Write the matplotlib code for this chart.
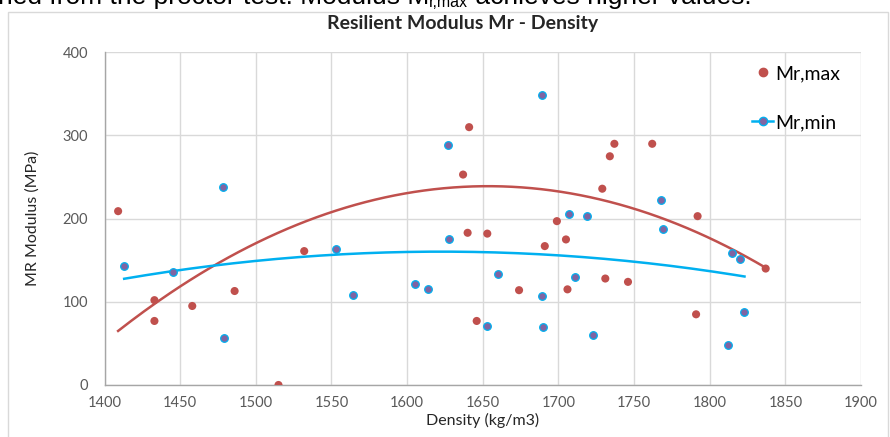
import numpy as np
import matplotlib.pyplot as plt
from matplotlib.lines import Line2D
from matplotlib.patches import Rectangle

# Mr,max measurements: dry density (kg/m3) and resilient modulus (MPa)
density_max = [1409, 1433, 1433, 1458, 1486, 1515, 1532, 1637, 1640, 1641,
               1646, 1653, 1674, 1691, 1699, 1705, 1706, 1729, 1731, 1734,
               1737, 1746, 1762, 1791, 1792, 1837]
mr_max = [209, 102, 77, 95, 113, 0, 161, 253, 183, 310,
          77, 182, 114, 167, 197, 175, 115, 236, 128, 275,
          290, 124, 290, 85, 203, 140]

# Mr,min measurements
density_min = [1413, 1445, 1478, 1479, 1553, 1564, 1605, 1614, 1627, 1628,
               1653, 1660, 1689, 1689, 1690, 1707, 1711, 1719, 1723, 1768,
               1769, 1812, 1815, 1820, 1823]
mr_min = [143, 136, 238, 56, 164, 108, 122, 115, 289, 175,
          71, 134, 349, 107, 70, 205, 130, 203, 60, 223,
          188, 48, 159, 152, 88]

# polynomial (order 2) trend of Mr,max: start, crest and end values
trend_max_density = [1409, 1650, 1837]
trend_max_mr = [65, 239, 141]

x_ticks = [1400, 1450, 1500, 1550, 1600, 1650, 1700, 1750, 1800, 1850, 1900]
y_ticks = [0, 100, 200, 300, 400]

title = "Resilient Modulus Mr - Density"
x_label = "Density (kg/m3)"
y_label = "MR Modulus (MPa)"
label_max = "Mr,max"
label_min = "Mr,min"
caption_parts = ["ned from the proctor test. Modulus M", "r,max",
                 " achieves higher values."]

RED = "#C0504D"
CYAN = "#00B0F0"
PURPLE = "#8064A2"
GRID = "#D9D9D9"
AXIS = "#A6A6A6"
TXT = "#595959"

plt.rcParams['font.family'] = ['Lato', 'DejaVu Sans']

W, H = 890, 437
fig = plt.figure(figsize=(W / 100, H / 100), dpi=100)


def fx(px):
    return px / W


def fy(py):
    return 1 - py / H


# outer chart border
fig.patches.append(Rectangle((fx(8), fy(460)), fx(888) - fx(8), fy(12) - fy(460),
                             transform=fig.transFigure, fill=False,
                             edgecolor=GRID, linewidth=1.0))

# sentence of the surrounding document, cut off at the top edge
renderer = fig.canvas.get_renderer()
cap_font = ['Liberation Sans', 'DejaVu Sans']
x_px = -2.0
for i, part in enumerate(caption_parts):
    sub = (i == 1)
    t = fig.text(fx(x_px), fy(7.0 if sub else 4.0), part,
                 fontsize=11.5 if sub else 19, color="black",
                 ha="left", va="baseline", family=cap_font)
    x_px += t.get_window_extent(renderer).width

ax = fig.add_axes([fx(104.5), fy(385), fx(861) - fx(104.5), fy(52.3) - fy(385)])

# second-order trend lines
trend_specs = ((trend_max_density, trend_max_mr, RED),
               (density_min, mr_min, CYAN))
for xs, ys, col in trend_specs:
    coef = np.polyfit(xs, ys, 2)
    xx = np.linspace(min(xs), max(xs), 200)
    ax.plot(xx, np.polyval(coef, xx), color=col, linewidth=1.8, zorder=2)

ax.scatter(density_max, mr_max, s=34, color=RED, edgecolors='none', zorder=3)
ax.scatter(density_min, mr_min, s=30, color=PURPLE, edgecolors=CYAN,
           linewidths=0.9, zorder=3)

ax.set_xlim(1400, 1900)
ax.set_ylim(0, 400)
ax.set_xticks(x_ticks)
ax.set_yticks(y_ticks)
ax.grid(True, color=GRID, linewidth=1.0)
ax.set_axisbelow(True)
for side in ("top", "right"):
    ax.spines[side].set_visible(False)
for side in ("left", "bottom"):
    ax.spines[side].set_color(AXIS)
    ax.spines[side].set_linewidth(1.0)
ax.tick_params(length=0, labelsize=10.5, labelcolor=TXT, pad=8)
ax.tick_params(axis='y', pad=12)

ax.set_xlabel(x_label, fontsize=11.5, color="#262626", labelpad=2)
ax.set_ylabel(y_label, fontsize=11.5, color="#262626", labelpad=16)

fig.text(fx(463), fy(23.5), title, fontsize=14, fontweight='bold',
         ha='center', va='center', color="#262626")

handles = [
    Line2D([], [], linestyle='none', marker='o', markersize=6,
           color=RED, markeredgecolor=RED),
    Line2D([], [], color=CYAN, linewidth=1.8, marker='o', markersize=6,
           markerfacecolor=PURPLE, markeredgecolor=CYAN),
]
fig.legend(handles, [label_max, label_min], loc='upper left',
           bbox_to_anchor=(fx(752), fy(65)), frameon=False,
           fontsize=14, handlelength=1.1, handletextpad=0.1,
           labelspacing=1.65, borderaxespad=0, borderpad=0)

fig.savefig("out.png", dpi=100, facecolor="white")
